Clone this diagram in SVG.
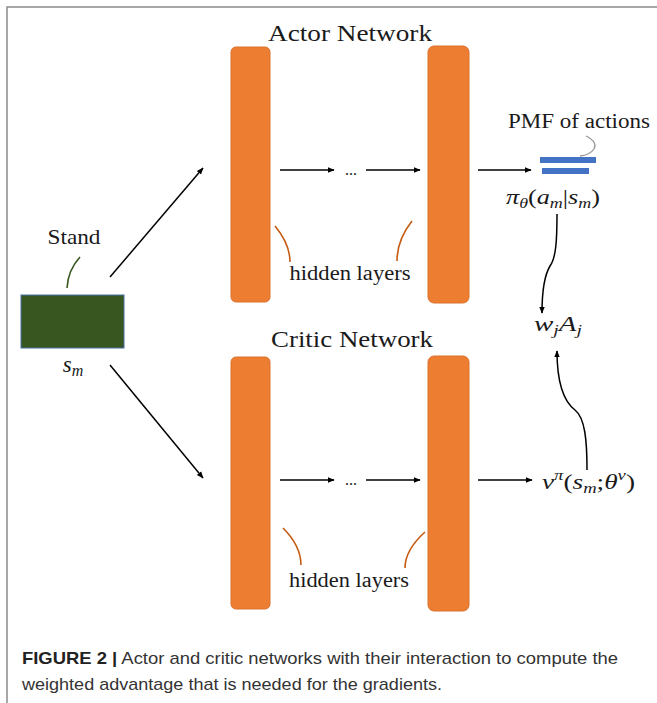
<svg xmlns="http://www.w3.org/2000/svg" width="657" height="703" viewBox="0 0 657 703">
<defs>
<marker id="ah" viewBox="0 0 10 10" refX="9" refY="5" markerWidth="7" markerHeight="7" markerUnits="userSpaceOnUse" orient="auto">
<path d="M0,1 L10,5 L0,9 z" fill="#000"/>
</marker>
</defs>
<style>
.bar{fill:#ED7D31;stroke:#D9732D;stroke-width:1}
.conn{fill:none;stroke:#000;stroke-width:1.5;marker-end:url(#ah)}
.lbl{font-family:"Liberation Serif","DejaVu Serif",serif;fill:#1a1a1a}
.math{font-family:"Liberation Serif","DejaVu Serif",serif;font-style:italic;fill:#1a1a1a}
.brace{fill:none;stroke:#C55A11;stroke-width:1.6}
.cap{font-family:"Liberation Sans","Arial",sans-serif;font-size:17px;fill:#333}
</style>
<rect width="657" height="703" fill="#fff"/>
<path d="M7,703 L7,7 L657,7" fill="none" stroke="#8a8a8a" stroke-width="1.5"/>

<g id="titles">
<text class="lbl" x="350" y="41" font-size="24" text-anchor="middle" textLength="164" lengthAdjust="spacingAndGlyphs">Actor Network</text>
<text class="lbl" x="352" y="347" font-size="24" text-anchor="middle" textLength="162" lengthAdjust="spacingAndGlyphs">Critic Network</text>
</g>

<g id="state">
<rect x="21" y="295" width="103" height="53" fill="#38561F" stroke="#4a6fa5" stroke-width="1"/>
<text class="lbl" x="74" y="244" font-size="21" text-anchor="middle" textLength="53" lengthAdjust="spacingAndGlyphs">Stand</text>
<path d="M67,288 Q68,270 80,257" fill="none" stroke="#38561F" stroke-width="1.6"/>
<text class="math" x="73" y="372" font-size="23" text-anchor="middle">s<tspan font-size="16" dy="4">m</tspan></text>
</g>

<g id="actor-layer1"><rect class="bar" x="231" y="47" width="39" height="255" rx="5"/></g>
<g id="actor-layer2"><rect class="bar" x="428" y="46" width="41" height="257" rx="6"/></g>
<g id="critic-layer1"><rect class="bar" x="231" y="357" width="39" height="252" rx="5"/></g>
<g id="critic-layer2"><rect class="bar" x="428" y="356" width="41" height="255" rx="6"/></g>

<g id="actor-hidden">
<path class="brace" d="M275,226 Q290,244 290,262"/>
<path class="brace" d="M412,221 Q397,240 397,261"/>
<text class="lbl" x="350" y="280" font-size="20" text-anchor="middle" textLength="121" lengthAdjust="spacingAndGlyphs">hidden layers</text>
</g>
<g id="critic-hidden">
<path class="brace" d="M283,528 Q301,546 301,565"/>
<path class="brace" d="M425,532 Q405,550 405,568"/>
<text class="lbl" x="349" y="587" font-size="20" text-anchor="middle" textLength="120" lengthAdjust="spacingAndGlyphs">hidden layers</text>
</g>

<g id="dots">
<text class="lbl" x="351" y="175" font-size="16" text-anchor="middle">...</text>
<text class="lbl" x="351" y="485" font-size="16" text-anchor="middle">...</text>
</g>

<g id="pmf">
<text class="lbl" x="579" y="128" font-size="20" text-anchor="middle" textLength="142" lengthAdjust="spacingAndGlyphs">PMF of actions</text>
<path d="M586,136 Q598,142 594,149 Q590,155 580,156" fill="none" stroke="#999" stroke-width="1.3"/>
<rect x="540" y="157" width="56" height="6" fill="#4472C4"/>
<rect x="542" y="168" width="47" height="6" fill="#4472C4"/>
<text class="math" x="506" y="204" font-size="22" textLength="94" lengthAdjust="spacingAndGlyphs">π<tspan font-size="15" dy="4">θ</tspan><tspan dy="-4" font-style="normal">(</tspan>a<tspan font-size="15" dy="4">m</tspan><tspan dy="-4" font-style="normal">|</tspan>s<tspan font-size="15" dy="4">m</tspan><tspan dy="-4" font-style="normal">)</tspan></text>
</g>

<g id="advantage">
<text class="math" x="534" y="331" font-size="22" textLength="48" lengthAdjust="spacingAndGlyphs">w<tspan font-size="15" dy="4">j</tspan><tspan dy="-4">A</tspan><tspan font-size="15" dy="4">j</tspan></text>
</g>

<g id="value">
<text class="math" x="542" y="489" font-size="22" textLength="93" lengthAdjust="spacingAndGlyphs">v<tspan font-size="15" dy="-9">π</tspan><tspan dy="9" font-style="normal">(</tspan>s<tspan font-size="15" dy="4">m</tspan><tspan dy="-4" font-style="normal">;</tspan>θ<tspan font-size="15" dy="-9">v</tspan><tspan dy="9" font-style="normal">)</tspan></text>
</g>

<g id="connectors">
<line class="conn" x1="110" y1="277" x2="203" y2="168"/>
<line class="conn" x1="110" y1="365" x2="203" y2="478"/>
<line class="conn" x1="280" y1="170" x2="334" y2="170"/>
<line class="conn" x1="366" y1="170" x2="420" y2="170"/>
<line class="conn" x1="478" y1="170" x2="531" y2="170"/>
<line class="conn" x1="280" y1="480" x2="334" y2="480"/>
<line class="conn" x1="366" y1="480" x2="420" y2="480"/>
<line class="conn" x1="478" y1="480" x2="532" y2="480"/>
<path class="conn" d="M557,214 C557,240 556,258 550,266 C544,276 542,290 542,313"/>
<path class="conn" d="M587,470 C587,440 585,418 575,410 C562,400 557,380 557,351"/>
</g>

<g id="caption">
<text class="cap" x="22" y="664" textLength="596" lengthAdjust="spacingAndGlyphs"><tspan font-weight="bold" fill="#222">FIGURE 2 |</tspan> Actor and critic networks with their interaction to compute the</text>
<text class="cap" x="22" y="690" textLength="420" lengthAdjust="spacingAndGlyphs">weighted advantage that is needed for the gradients.</text>
</g>
</svg>
